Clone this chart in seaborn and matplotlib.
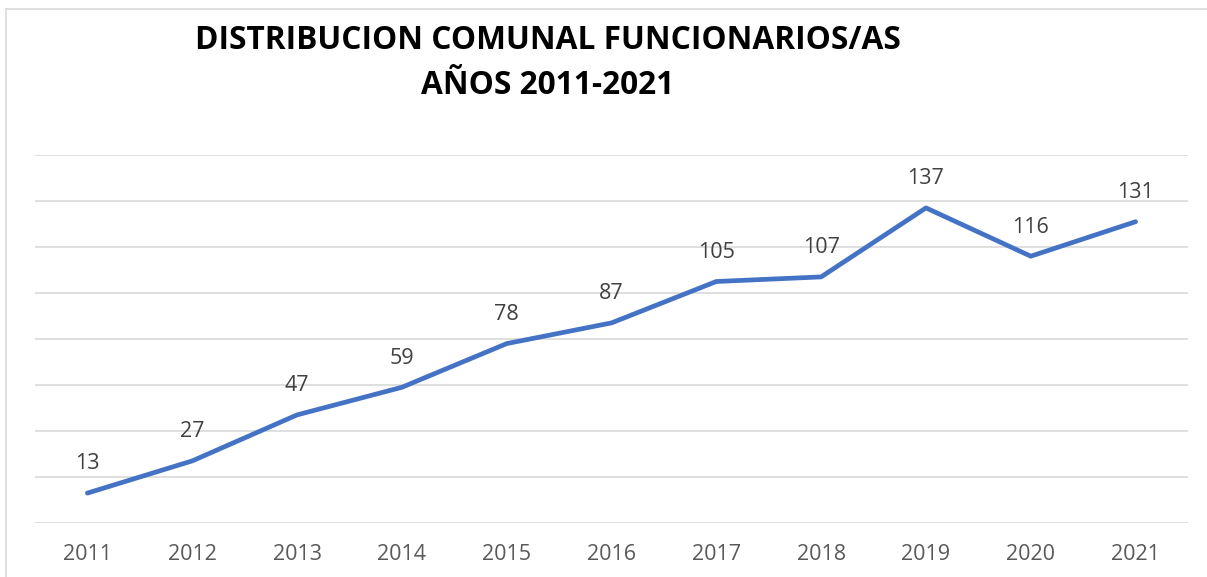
import numpy as np
import pandas as pd
import matplotlib
matplotlib.use("Agg")
import matplotlib.pyplot as plt
from matplotlib.lines import Line2D
import seaborn as sns

# Data
years = [2011, 2012, 2013, 2014, 2015, 2016, 2017, 2018, 2019, 2020, 2021]
funcionarios = [13, 27, 47, 59, 78, 87, 105, 107, 137, 116, 131]
title_lines = ["DISTRIBUCION COMUNAL FUNCIONARIOS/AS", "AÑOS 2011-2021"]

df = pd.DataFrame({"anio": years, "total": funcionarios})

sns.set_theme(style="white")
plt.rcParams['font.family'] = ['Open Sans', 'DejaVu Sans']

fig = plt.figure(figsize=(12.07, 5.77), dpi=100)
ax = fig.add_axes([35 / 1207, 1 - 523 / 577, (1188 - 35) / 1207, (523 - 155) / 577])

sns.lineplot(data=df, x="anio", y="total", ax=ax, color="#4472C4", linewidth=3.4,
             solid_capstyle="round", solid_joinstyle="round", zorder=3)

# value labels
for x, v in zip(df["anio"], df["total"]):
    ax.annotate(str(v), (x, v), xytext=(0, 17), textcoords="offset points",
                ha="center", va="baseline", fontsize=15.5, color="#404040")

ax.set_xlim(years[0] - 0.5, years[-1] + 0.5)
ax.set_ylim(0, 160)
ax.set_yticks(np.arange(0, 161, 20))
ax.set_yticklabels([])
ax.set_xticks(years)
ax.set_xticklabels([str(y) for y in years], fontsize=15.5, color="#595959")
ax.tick_params(axis="both", length=0)
ax.tick_params(axis="x", pad=15)
ax.grid(axis="y", color="#d9d9d9", linewidth=1.2)
ax.grid(axis="x", visible=False)
for s in ax.spines.values():
    s.set_visible(False)
ax.set_xlabel("")
ax.set_ylabel("")

# title
fig.text(548 / 1207, 1 - 49 / 577, title_lines[0], ha="center", va="baseline",
         fontsize=22.8, fontweight="bold", color="black")
fig.text(548 / 1207, 1 - 94 / 577, title_lines[1], ha="center", va="baseline",
         fontsize=22.8, fontweight="bold", color="black")

# chart border (top and left visible)
fig.add_artist(Line2D([6 / 1207, 1.0], [1 - 9 / 577, 1 - 9 / 577],
                      transform=fig.transFigure, color="#d9d9d9", linewidth=1.2))
fig.add_artist(Line2D([6 / 1207, 6 / 1207], [0, 1 - 9 / 577],
                      transform=fig.transFigure, color="#d9d9d9", linewidth=1.2))

fig.savefig("out.png", dpi=100)
